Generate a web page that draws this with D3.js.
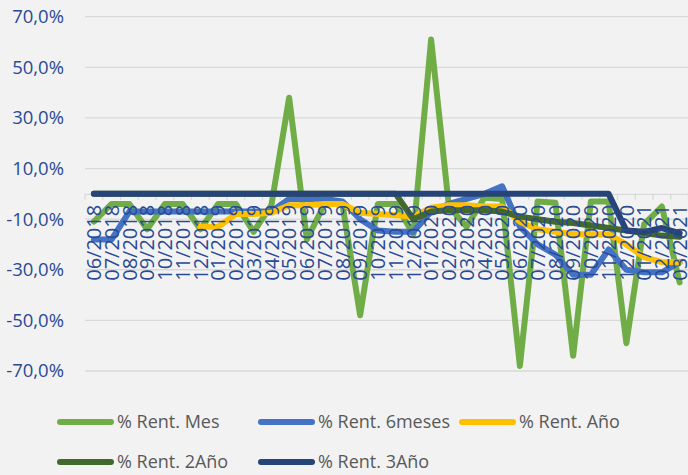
<!DOCTYPE html>
<html>
<head>
<meta charset="utf-8">
<script src="https://cdn.jsdelivr.net/npm/d3@7"></script>
<style>
  html, body { margin: 0; padding: 0; background: #f2f2f2; }
  svg { display: block; }
  .tick-label { font-family: "Open Sans", sans-serif; fill: #2a4a94; }
  .legend-text { font-family: "Open Sans", sans-serif; fill: #595959; font-size: 18px; }
</style>
</head>
<body>
<div id="chart"></div>
<script>
const months = ["06/2018","07/2018","08/2018","09/2018","10/2018","11/2018","12/2018",
  "01/2019","02/2019","03/2019","04/2019","05/2019","06/2019","07/2019","08/2019","09/2019",
  "10/2019","11/2019","12/2019","01/2020","02/2020","03/2020","04/2020","05/2020","06/2020",
  "07/2020","08/2020","09/2020","10/2020","11/2020","12/2020","01/2021","02/2021","03/2021"];

const rentMes = [-11, -4, -4, -14, -4, -4, -14, -4, -4, -15, -4.5, 38, -18, -4, -4, -48, -4, -4,
  -16, 61, -5, -13, -1.5, -2, -68, -3, -3.5, -64, -3, -3, -59, -12, -5, -35];
const rent6meses = [-18, -18, -7, -7, -7, -7, -7, -7, -7, -7, -7, -2, -2, -2, -3, -10, -14.5, -15,
  -15, -7, -4, -2, 0, 3, -13, -20, -24, -32, -32, -22, -30, -31, -31, -27];
const rentAno = [null, null, null, null, null, null, -13, -13, -8, -8, -7.5, -4.5, -4.5, -4, -4,
  -7.5, -8, -8.5, -9, -5.5, -4.5, -4.5, -5, -5, -11, -14, -15, -16, -16, -16, -20, -25, -27, -27];
const rent2Ano = [0, 0, 0, 0, 0, 0, 0, 0, 0, 0, 0, 0, 0, 0, 0, 0, 0, 0,
  -10, -7, -6.5, -6.5, -6.5, -7, -9, -10, -11, -11.5, -12.5, -13.5, -14.5, -15.5, -16.5, -17];
const rent3Ano = [0, 0, 0, 0, 0, 0, 0, 0, 0, 0, 0, 0, 0, 0, 0, 0, 0, 0, 0, 0, 0, 0, 0, 0, 0,
  0, 0, 0, 0, 0, -14.5, -15, -13.5, -15.5];

const yTicks = [70, 50, 30, 10, -10, -30, -50, -70];

const seriesNames = ["% Rent. Mes", "% Rent. 6meses", "% Rent. Año", "% Rent. 2Año", "% Rent. 3Año"];
const seriesColors = ["#70ad47", "#4472c4", "#ffc000", "#43682b", "#264478"];
const seriesValues = [rentMes, rent6meses, rentAno, rent2Ano, rent3Ano];

const width = 688, height = 475;
const plot = { left: 85, right: 688.5, top: 16.7, bottom: 371 };

const svg = d3.select("#chart").append("svg")
  .attr("width", width)
  .attr("height", height);

const x = d3.scaleBand()
  .domain(months)
  .range([plot.left, plot.right])
  .padding(0);

const y = d3.scaleLinear()
  .domain([-70, 70])
  .range([plot.bottom, plot.top]);

const locale = d3.formatLocale({ decimal: ",", thousands: ".", grouping: [3], currency: ["", "€"], minus: "-" });
const pct = locale.format(".1f");

// gridlines + y labels
svg.append("g")
  .selectAll("line")
  .data(yTicks)
  .join("line")
  .attr("x1", plot.left)
  .attr("x2", plot.right)
  .attr("y1", d => y(d))
  .attr("y2", d => y(d))
  .attr("stroke", "#d9d9d9")
  .attr("stroke-width", 1.3);

svg.append("g")
  .selectAll("text")
  .data(yTicks)
  .join("text")
  .attr("class", "tick-label")
  .attr("x", 64)
  .attr("y", d => y(d))
  .attr("dy", "0.35em")
  .attr("text-anchor", "end")
  .style("font-size", "18.5px")
  .text(d => pct(d) + "%");

// category axis sitting at 0
const axis = svg.append("g")
  .attr("transform", `translate(0,${y(0)})`)
  .call(d3.axisBottom(x).tickSize(0).tickFormat(""));
axis.select(".domain").attr("stroke", "#d9d9d9").attr("stroke-width", 1.3);

const bounds = months.map(m => x(m)).concat([plot.right]);
svg.append("g")
  .selectAll("line")
  .data(bounds)
  .join("line")
  .attr("x1", d => d)
  .attr("x2", d => d)
  .attr("y1", y(0))
  .attr("y2", y(0) + 6)
  .attr("stroke", "#d9d9d9")
  .attr("stroke-width", 1.3);

// lines
const line = d3.line()
  .defined(d => d.v !== null)
  .x(d => x(d.m) + x.bandwidth() / 2)
  .y(d => y(d.v));

seriesValues.forEach((vals, i) => {
  svg.append("path")
    .datum(months.map((m, j) => ({ m, v: vals[j] })))
    .attr("fill", "none")
    .attr("stroke", seriesColors[i])
    .attr("stroke-width", 6)
    .attr("stroke-linejoin", "round")
    .attr("stroke-linecap", "round")
    .attr("d", line);
});

// x labels (drawn over the lines, like the reference)
svg.append("g")
  .selectAll("text")
  .data(months)
  .join("text")
  .attr("class", "tick-label")
  .attr("transform", d => `translate(${x(d) + x.bandwidth() / 2},${y(0) + 11}) rotate(-90)`)
  .attr("text-anchor", "end")
  .attr("dy", "0.36em")
  .style("font-size", "20px")
  .text(d => d);

// legend
const legend = svg.append("g");
const items = legend.selectAll("g")
  .data(seriesNames)
  .join("g")
  .attr("transform", (d, i) => `translate(${58 + (i % 3) * 201},${i < 3 ? 422 : 462})`);

items.append("line")
  .attr("x1", 2).attr("x2", 53)
  .attr("stroke", (d, i) => seriesColors[i])
  .attr("stroke-width", 6)
  .attr("stroke-linecap", "round");

items.append("text")
  .attr("class", "legend-text")
  .attr("x", 59)
  .attr("dy", "0.35em")
  .text(d => d);
</script>
</body>
</html>
